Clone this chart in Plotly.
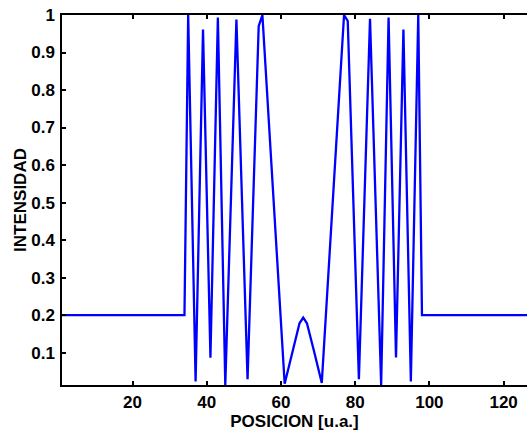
import plotly.graph_objects as go

# Vertices (position, intensity)
posicion = [1, 34, 35, 37, 39, 41, 43, 45, 48, 51, 54, 55, 61, 63, 65, 66, 67, 69, 71,
            77, 78, 81, 84, 87, 89, 91, 93, 95, 97, 98, 128]
intensidad = [0.2, 0.2, 1.0, 0.023, 0.961, 0.086, 0.993, 0.0137, 0.988, 0.029, 0.97, 1.0,
              0.017, 0.10, 0.178, 0.193, 0.178, 0.10, 0.019,
              1.0, 0.984, 0.029, 0.99, 0.0137, 0.993, 0.087,
              0.961, 0.023, 1.0, 0.2, 0.2]

x_ticks = [20, 40, 60, 80, 100, 120]
y_ticks = [0.1, 0.2, 0.3, 0.4, 0.5, 0.6, 0.7, 0.8, 0.9, 1]
y_labels = ["0.1", "0.2", "0.3", "0.4", "0.5", "0.6", "0.7", "0.8", "0.9", "1"]

FONT = "Arial, Liberation Sans, Helvetica, sans-serif"

fig = go.Figure()
fig.add_trace(go.Scatter(x=posicion, y=intensidad, mode="lines",
                         line=dict(color="#0000ff", width=2.3), showlegend=False,
                         hoverinfo="skip"))

fig.update_layout(
    width=527, height=431,
    margin=dict(l=62, r=0, t=15, b=46),
    paper_bgcolor="white", plot_bgcolor="white",
    font=dict(family=FONT, size=17, color="black"),
    xaxis=dict(
        range=[1, 126.3], tickvals=x_ticks, ticks="inside", ticklen=4,
        tickwidth=1.5, tickcolor="black", showline=True, linecolor="black",
        linewidth=1.5, mirror="ticks", showgrid=False, zeroline=False,
        tickfont=dict(family=FONT, size=17, weight="bold", color="black"),
        ticklabelstandoff=1,
        title=dict(text="POSICION [u.a.]", standoff=4,
                   font=dict(family=FONT, size=17, weight="bold", color="black")),
    ),
    yaxis=dict(
        range=[0.0136, 1], tickvals=y_ticks, ticktext=y_labels, ticks="inside",
        ticklen=4, tickwidth=1.5, tickcolor="black", showline=True,
        linecolor="black", linewidth=1.5, mirror=False, showgrid=False,
        zeroline=False,
        tickfont=dict(family=FONT, size=17, weight="bold", color="black"),
        ticklabelstandoff=2,
        title=dict(text="INTENSIDAD", standoff=0,
                   font=dict(family=FONT, size=17, weight="bold", color="black")),
    ),
)

fig.write_html("out.html")
